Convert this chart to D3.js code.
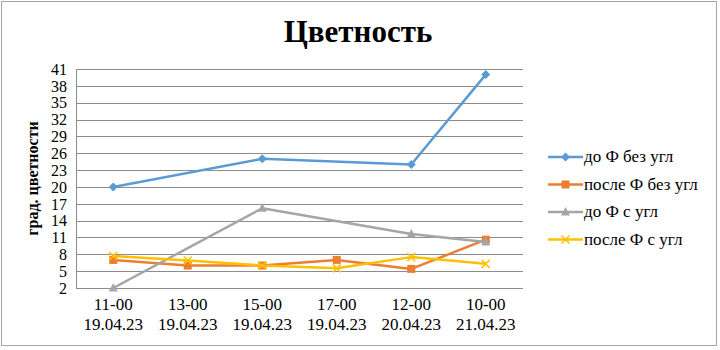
<!DOCTYPE html>
<meta charset="utf-8">
<style>
body { margin: 0; background: #fff; }
svg text { font-family: "Liberation Serif", "DejaVu Serif", serif; }
</style>
<svg id="chart" width="720" height="350"></svg>
<script src="https://cdn.jsdelivr.net/npm/d3@7/dist/d3.min.js"></script>
<script>

var categories = ["11-00|19.04.23", "13-00|19.04.23", "15-00|19.04.23", "17-00|19.04.23", "12-00|20.04.23", "10-00|21.04.23"];
var yTicks = [2, 5, 8, 11, 14, 17, 20, 23, 26, 29, 32, 35, 38, 41];

var doBez = [20, null, 25, null, 24, 40];
var posleBez = [7, 6, 6, 7, 5.4, 10.6];
var doS = [2, null, 16.2, null, 11.6, 10.2];
var posleS = [7.7, 6.9, 6.0, 5.5, 7.5, 6.3];

var seriesNames = ["до Ф без угл", "после Ф без угл", "до Ф с угл", "после Ф с угл"];
var seriesColors = ["#5B9BD5", "#ED7D31", "#A5A5A5", "#FFC000"];
var seriesMarks = ["diamond", "square", "triangle", "cross"];
var seriesData = [doBez, posleBez, doS, posleS];

var FONT = "'Liberation Serif', 'DejaVu Serif', serif";

var svg = d3.select("#chart");
var margin = {left: 76, right: 197, top: 69, bottom: 62};
var width = 720, height = 350;

// рамка диаграммы
svg.append("rect")
	.attr("x", 1.5).attr("y", 1.5)
	.attr("width", 715).attr("height", 344)
	.attr("fill", "#fff")
	.attr("stroke", "#a6a6a6")
	.attr("stroke-width", 1);

var x = d3.scaleBand()
	.domain(d3.range(categories.length))
	.range([margin.left, width - margin.right]);

var y = d3.scaleLinear()
	.domain([2, 41])
	.range([height - margin.bottom, margin.top]);

// сетка
svg.append("g")
	.selectAll("line")
	.data(yTicks)
	.join("line")
	.attr("x1", margin.left).attr("x2", width - margin.right)
	.attr("y1", d => Math.round(y(d)) + 0.5).attr("y2", d => Math.round(y(d)) + 0.5)
	.attr("stroke", "#8c8c8c")
	.attr("stroke-width", 1);

svg.append("line")
	.attr("x1", margin.left + 0.5).attr("x2", margin.left + 0.5)
	.attr("y1", y(41)).attr("y2", y(2))
	.attr("stroke", "#8c8c8c");

// ось Y
var yAxis = d3.axisLeft(y).tickValues(yTicks).tickSize(0).tickPadding(9);
var gy = svg.append("g").attr("transform", "translate(" + margin.left + ",0)").call(yAxis)
	.attr("font-family", FONT).attr("font-size", 16);
gy.select(".domain").remove();
gy.selectAll("text").attr("fill", "#000").attr("dy", "0.33em");

// ось X
var gx = svg.append("g").attr("transform", "translate(0," + (height - margin.bottom) + ")");
gx.selectAll("text")
	.data(categories)
	.join("text")
	.attr("x", (d, i) => x(i) + x.bandwidth() / 2)
	.attr("text-anchor", "middle")
	.attr("font-family", FONT)
	.attr("font-size", 17)
	.attr("fill", "#000")
	.each(function(d) {
		var parts = d.split("|");
		d3.select(this).append("tspan").attr("x", d3.select(this).attr("x")).attr("y", 22).text(parts[0]);
		d3.select(this).append("tspan").attr("x", d3.select(this).attr("x")).attr("y", 42).text(parts[1]);
	});

// заголовок
svg.append("text")
	.attr("x", 358).attr("y", 42)
	.attr("text-anchor", "middle")
	.attr("font-family", FONT)
	.attr("font-size", 31)
	.attr("font-weight", "bold")
	.text("Цветность");

svg.append("text")
	.attr("transform", "translate(38," + ((y(2) + y(41)) / 2) + ") rotate(-90)")
	.attr("text-anchor", "middle")
	.attr("font-family", FONT)
	.attr("font-size", 16)
	.attr("font-weight", "bold")
	.text("град. цветности");

function marker(g, type, color) {
	if (type == "diamond") {
		g.append("path").attr("d", "M0,-4.5L4.5,0L0,4.5L-4.5,0Z").attr("fill", color);
	} else if (type == "square") {
		g.append("rect").attr("x", -4).attr("y", -4).attr("width", 8).attr("height", 8).attr("fill", color);
	} else if (type == "triangle") {
		g.append("path").attr("d", "M0,-5L4.5,3.5L-4.5,3.5Z").attr("fill", color);
	} else {
		g.append("path").attr("d", "M-4,-4L4,4M-4,4L4,-4").attr("stroke", color).attr("stroke-width", 1.5);
	}
}

var line = d3.line()
	.x(d => x(d.i) + x.bandwidth() / 2)
	.y(d => y(d.v));

seriesData.forEach(function(data, k) {
	var pts = data.map((v, i) => ({i: i, v: v})).filter(d => d.v != null);
	svg.append("path")
		.datum(pts)
		.attr("d", line)
		.attr("fill", "none")
		.attr("stroke", seriesColors[k])
		.attr("stroke-width", 2.5)
		.attr("stroke-linejoin", "round");
	pts.forEach(function(d) {
		var g = svg.append("g").attr("transform", "translate(" + (x(d.i) + x.bandwidth() / 2) + "," + y(d.v) + ")");
		marker(g, seriesMarks[k], seriesColors[k]);
	});
});

// легенда
var legend = svg.append("g").attr("transform", "translate(548,157)");
seriesNames.forEach(function(name, k) {
	var row = legend.append("g").attr("transform", "translate(0," + (k * 27.5) + ")");
	row.append("line").attr("x1", 0).attr("x2", 35).attr("y1", 0).attr("y2", 0)
		.attr("stroke", seriesColors[k]).attr("stroke-width", 2.5);
	var g = row.append("g").attr("transform", "translate(17.5,0)");
	marker(g, seriesMarks[k], seriesColors[k]);
	row.append("text").attr("x", 36).attr("y", 5).attr("font-family", FONT).attr("font-size", 17).text(name);
});

</script>
</html>
